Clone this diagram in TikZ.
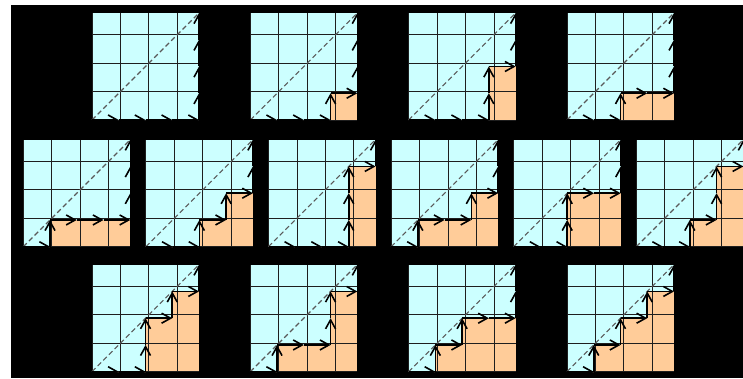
\documentclass[tikz,border=0pt]{standalone}
\usepackage{tikz}
\usetikzlibrary{arrows.meta}
\definecolor{skycyan}{RGB}{204,255,255}
\definecolor{areaorange}{RGB}{255,204,153}
\definecolor{gridgray}{RGB}{30,30,30}
\newcommand{\dyck}[3]{%
  \begin{scope}[shift={(#1pt,#2pt)}]
    \fill[skycyan] (0,0) rectangle (4,4);
    \foreach \s [remember=\nx as \px (initially 0), remember=\ny as \py (initially 0)] in {#3} {%
      \if R\s
        \pgfmathtruncatemacro{\nx}{\px+1}\edef\ny{\py}%
        \fill[areaorange] (\px,0) rectangle (\nx,\py);
      \else
        \edef\nx{\px}\pgfmathtruncatemacro{\ny}{\py+1}%
      \fi
    }
    \draw[gridline] (0,0) grid (4,4);
    \draw[diagline] (0,0) -- (4,4);
    \foreach \s [remember=\nx as \px (initially 0), remember=\ny as \py (initially 0)] in {#3} {%
      \if R\s
        \pgfmathtruncatemacro{\nx}{\px+1}\edef\ny{\py}%
      \else
        \edef\nx{\px}\pgfmathtruncatemacro{\ny}{\py+1}%
      \fi
      \draw[pathstep] (\px,\py) -- (\nx,\ny);
    }
  \end{scope}}

\begin{document}
\begin{tikzpicture}[x=26.75pt, y=26.75pt,
    gridline/.style={draw=gridgray, line width=0.9pt},
    diagline/.style={draw=black!65, line width=1.1pt, dash pattern=on 5pt off 3pt},
    pathstep/.style={line width=1.6pt, -{Straight Barb[length=9pt,width=10pt]}}]
    \useasboundingbox (0,0) rectangle (743pt,378pt);
    \fill[white] (0,0) rectangle (743pt,378pt);
    \fill[black] (11pt,0) rectangle (743pt,373pt);
    \dyck{92}{258}{R,R,R,R,U,U,U,U}
    \dyck{250.3}{258}{R,R,R,U,R,U,U,U}
    \dyck{408.6}{258}{R,R,R,U,U,R,U,U}
    \dyck{567}{258}{R,R,U,R,R,U,U,U}
    \dyck{23.3}{131.3}{R,U,R,R,R,U,U,U}
    \dyck{145.9}{131.3}{R,R,U,R,U,R,U,U}
    \dyck{268.5}{131.3}{R,R,R,U,U,U,R,U}
    \dyck{391.1}{131.3}{R,U,R,R,U,R,U,U}
    \dyck{513.7}{131.3}{R,R,U,U,R,R,U,U}
    \dyck{636.3}{131.3}{R,R,U,R,U,U,R,U}
    \dyck{92}{6.3}{R,R,U,U,R,U,R,U}
    \dyck{250.3}{6.3}{R,U,R,R,U,U,R,U}
    \dyck{408.6}{6.3}{R,U,R,U,R,R,U,U}
    \dyck{567}{6.3}{R,U,R,U,R,U,R,U}
  \end{tikzpicture}
\end{document}
